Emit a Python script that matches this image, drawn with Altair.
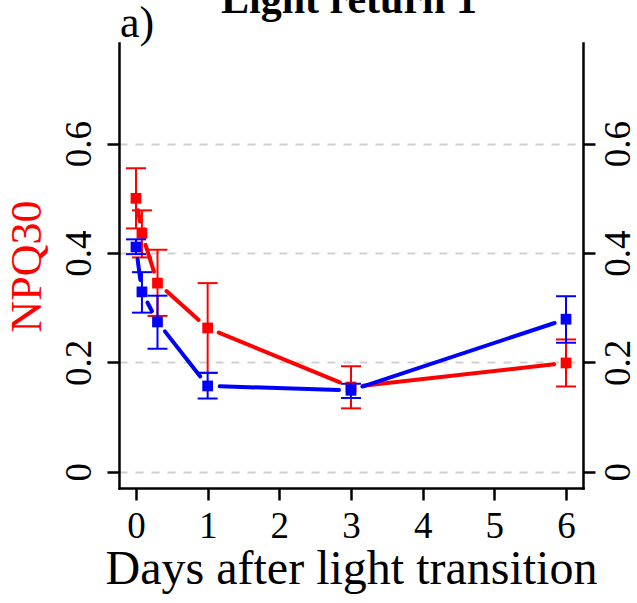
import altair as alt
import numpy as np
import pandas as pd

# Days after the light transition at which NPQ30 was measured
days = [0, 0.083, 0.3, 1, 3, 6]

# Red series: mean and error-bar limits
red_mean = [0.500, 0.436, 0.345, 0.263, 0.155, 0.199]
red_lo = [0.445, 0.392, 0.285, 0.181, 0.116, 0.156]
red_hi = [0.555, 0.478, 0.406, 0.345, 0.193, 0.242]

# Blue series: mean and error-bar limits
blue_mean = [0.411, 0.329, 0.274, 0.157, 0.149, 0.279]
blue_lo = [0.398, 0.291, 0.225, 0.134, 0.135, 0.236]
blue_hi = [0.425, 0.365, 0.322, 0.181, 0.161, 0.321]

x_ticks = [0, 1, 2, 3, 4, 5, 6]
y_ticks = [0, 0.2, 0.4, 0.6]

X_DOMAIN = [-0.237, 6.237]
Y_DOMAIN = [-0.0296, 0.784]
W, H = 464, 445
GAP = 12  # px left open around each point, as in a "both" style plot
FONT = "Liberation Serif"
RED, BLUE = "#ff0000", "#0000ff"


def gapped_segments(xs, ys):
    """Line pieces between consecutive points, shortened by GAP px at both ends."""
    kx = W / (X_DOMAIN[1] - X_DOMAIN[0])
    ky = H / (Y_DOMAIN[1] - Y_DOMAIN[0])
    rows = []
    for i in range(len(xs) - 1):
        ddx, ddy = xs[i + 1] - xs[i], ys[i + 1] - ys[i]
        length = np.hypot(ddx * kx, ddy * ky)
        if length <= 2 * GAP:
            continue
        f = GAP / length
        rows.append(dict(x=xs[i] + f * ddx, y=ys[i] + f * ddy,
                         x2=xs[i + 1] - f * ddx, y2=ys[i + 1] - f * ddy))
    return pd.DataFrame(rows)


xscale = alt.Scale(domain=X_DOMAIN, nice=False, zero=False)
yscale = alt.Scale(domain=Y_DOMAIN, nice=False, zero=False)

x_axis = alt.Axis(
    orient="bottom", values=x_ticks, title="Days after light transition", grid=False,
    labelFont=FONT, labelFontSize=37, labelColor="black", labelBaseline="top",
    labelPadding=8, labelFlush=False,
    titleFont=FONT, titleFontSize=48, titleFontWeight="normal", titleColor="black",
    titleBaseline="alphabetic", titleY=95, titleX=W / 2, titleAlign="center",
)

left_axis = alt.Axis(
    orient="left", values=y_ticks, format="~g", title="NPQ30",
    grid=True, gridDash=[8, 8], gridColor="#d0d0d0", gridWidth=2,
    labelFont=FONT, labelFontSize=37, labelColor="black", labelAngle=270,
    labelAlign="center", labelBaseline="alphabetic", labelPadding=17, labelFlush=False,
    titleFont=FONT, titleFontSize=44, titleFontWeight="normal", titleColor=RED,
    titleAngle=270, titleAlign="center", titleBaseline="alphabetic",
    titleX=-79, titleY=223,
)

right_axis = alt.Axis(
    orient="right", values=y_ticks, format="~g", title=None, grid=False,
    labelFont=FONT, labelFontSize=37, labelColor="black", labelAngle=270,
    labelAlign="center", labelBaseline="top", labelPadding=5, labelFlush=False,
)


def X(field):
    return alt.X(field, scale=xscale, axis=x_axis)


def series_layers(means, lo, hi, color, y_axis):
    pts = pd.DataFrame({"day": days, "mean": means, "lo": lo, "hi": hi})
    segs = gapped_segments(days, means)

    lines = alt.Chart(segs).mark_rule(color=color, strokeWidth=4, strokeCap="round").encode(
        x=X("x:Q"),
        y=alt.Y("y:Q", scale=yscale, axis=None),
        x2="x2:Q", y2="y2:Q",
    )
    points = alt.Chart(pts).mark_point(
        shape="square", filled=True, size=115, color=color, opacity=1
    ).encode(
        x=X("day:Q"),
        y=alt.Y("mean:Q", scale=yscale, axis=y_axis),
    )
    stems = alt.Chart(pts).mark_rule(color=color, strokeWidth=2).encode(
        x=X("day:Q"),
        y=alt.Y("lo:Q", scale=yscale, axis=None),
        y2="hi:Q",
    )
    caps_lo = alt.Chart(pts).mark_tick(
        orient="horizontal", size=20, thickness=2, color=color, opacity=1
    ).encode(
        x=X("day:Q"),
        y=alt.Y("lo:Q", scale=yscale, axis=None),
    )
    caps_hi = alt.Chart(pts).mark_tick(
        orient="horizontal", size=20, thickness=2, color=color, opacity=1
    ).encode(
        x=X("day:Q"),
        y=alt.Y("hi:Q", scale=yscale, axis=None),
    )
    return [points, lines, stems, caps_lo, caps_hi]


red_layers = series_layers(red_mean, red_lo, red_hi, RED, left_axis)
blue_layers = series_layers(blue_mean, blue_lo, blue_hi, BLUE, right_axis)

title_text = alt.Chart(pd.DataFrame({"t": ["Light return 1"]})).mark_text(
    font=FONT, fontSize=42, fontWeight="bold", color="black",
    align="center", baseline="alphabetic",
).encode(text="t:N", x=alt.value(230), y=alt.value(-30))

panel_tag = alt.Chart(pd.DataFrame({"t": ["a)"]})).mark_text(
    font=FONT, fontSize=44, color="black", align="left", baseline="alphabetic",
).encode(text="t:N", x=alt.value(1), y=alt.value(-6))

chart = alt.layer(*red_layers, *blue_layers, title_text, panel_tag).resolve_axis(
    y="independent"
).properties(
    width=W, height=H,
    autosize=alt.AutoSizeParams(type="none"),
    padding={"left": 119, "top": 43, "right": 54, "bottom": 115},
    background="white",
).configure_view(stroke=None).configure_axis(
    domainColor="black", domainWidth=2.5, tickColor="black", tickWidth=2.5, tickSize=12,
    domainCap="square", labelFont=FONT, titleFont=FONT,
)

chart.save("out.html", embed_options={"renderer": "svg", "actions": False})
